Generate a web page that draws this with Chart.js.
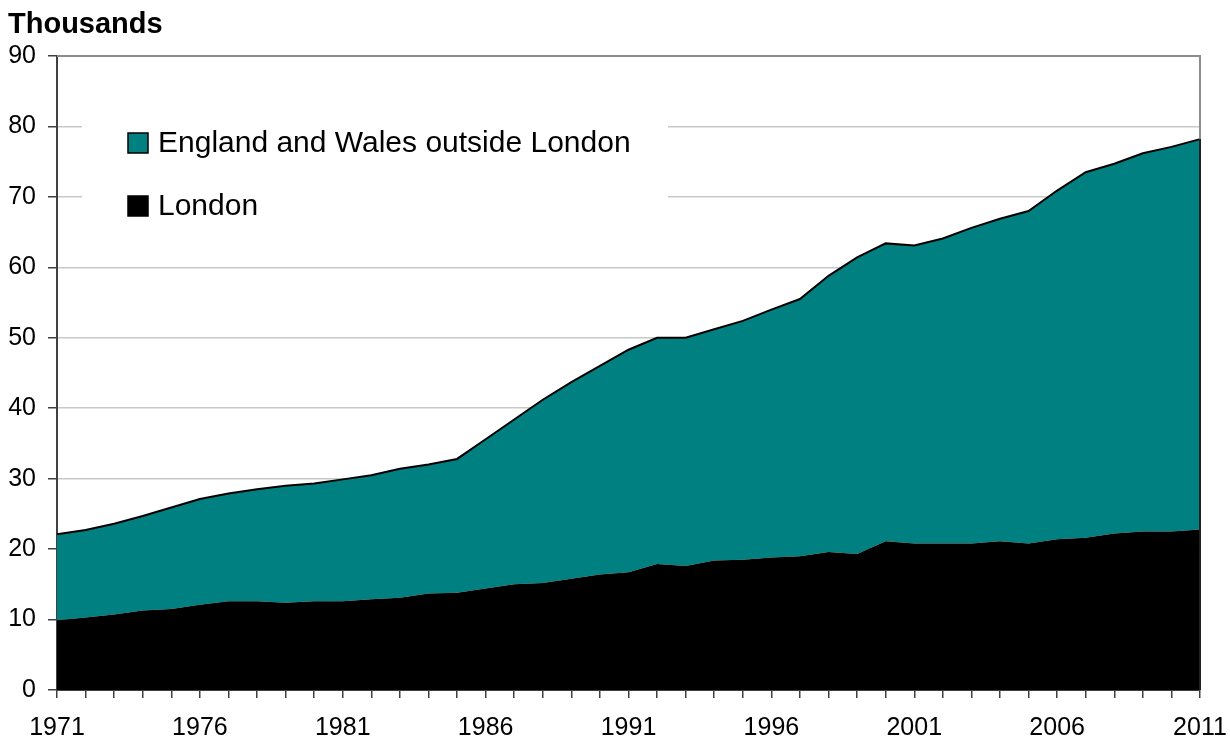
<!DOCTYPE html>
<html lang="en">
<head>
  <meta charset="UTF-8" />
  <title>Thousands - England and Wales</title>
  <script src="https://cdn.jsdelivr.net/npm/chart.js"></script>
  <style>
    html, body { margin: 0; padding: 0; background: #ffffff; }
    #wrap { width: 1230px; height: 740px; }
  </style>
</head>
<body>
<div id="wrap"><canvas id="areaChart" width="1230" height="740"></canvas></div>

<script>
  // Data (thousands)
  const years = [1971, 1972, 1973, 1974, 1975, 1976, 1977, 1978, 1979, 1980,
                 1981, 1982, 1983, 1984, 1985, 1986, 1987, 1988, 1989, 1990,
                 1991, 1992, 1993, 1994, 1995, 1996, 1997, 1998, 1999, 2000,
                 2001, 2002, 2003, 2004, 2005, 2006, 2007, 2008, 2009, 2010, 2011];
  const london = [9.9, 10.3, 10.7, 11.3, 11.5, 12.1, 12.6, 12.6, 12.4, 12.6,
                  12.6, 12.9, 13.1, 13.7, 13.8, 14.4, 15.0, 15.2, 15.8, 16.4,
                  16.7, 17.9, 17.6, 18.4, 18.5, 18.8, 19.0, 19.6, 19.3, 21.1,
                  20.8, 20.8, 20.8, 21.1, 20.8, 21.4, 21.6, 22.2, 22.5, 22.5, 22.8];
  const outsideLondon = [12.2, 12.4, 12.9, 13.4, 14.4, 15.0, 15.3, 15.9, 16.6, 16.7,
                         17.3, 17.6, 18.3, 18.3, 19.0, 21.2, 23.4, 26.0, 27.9, 29.6,
                         31.6, 32.1, 32.4, 32.8, 33.9, 35.2, 36.5, 39.2, 42.1, 42.3,
                         42.3, 43.3, 44.8, 45.8, 47.2, 49.5, 51.9, 52.5, 53.7, 54.6, 55.4];
  const yTicks = [0, 10, 20, 30, 40, 50, 60, 70, 80, 90];

  const FONT = "'Liberation Sans', Arial, sans-serif";
  const TEAL = '#008080';

  // frame, title and the boxed legend inside the plot
  const decorations = {
    id: 'decorations',
    afterDatasetsDraw(chart) {
      const { ctx, chartArea: a } = chart;
      ctx.save();
      ctx.lineWidth = 2;
      ctx.strokeStyle = '#8c8c8c';
      ctx.beginPath();
      ctx.moveTo(a.left, a.top);
      ctx.lineTo(a.right, a.top);
      ctx.lineTo(a.right, a.bottom);
      ctx.stroke();
      // dark edge where the area meets the right frame
      const yTop = chart.scales.y.getPixelForValue(london[london.length - 1] + outsideLondon[outsideLondon.length - 1]);
      ctx.strokeStyle = '#202020';
      ctx.beginPath();
      ctx.moveTo(a.right, yTop);
      ctx.lineTo(a.right, a.bottom);
      ctx.stroke();
      ctx.restore();
    },
    afterDraw(chart) {
      const { ctx } = chart;
      ctx.save();
      ctx.fillStyle = '#000';
      ctx.font = 'bold 29px ' + FONT;
      ctx.textBaseline = 'alphabetic';
      ctx.fillText('Thousands', 8, 33);

      // legend box
      ctx.fillStyle = '#ffffff';
      ctx.fillRect(82, 100, 586, 140);
      const items = [chart.data.datasets[1], chart.data.datasets[0]];
      ctx.font = '30px ' + FONT;
      ctx.textBaseline = 'middle';
      items.forEach((ds, i) => {
        const y = 143 + i * 63;
        ctx.fillStyle = ds.backgroundColor;
        ctx.fillRect(128, y - 10, 20, 20);
        ctx.strokeStyle = '#000';
        ctx.lineWidth = 1.5;
        ctx.strokeRect(128, y - 10, 20, 20);
        ctx.fillStyle = '#000';
        ctx.fillText(ds.label, 158, y + 1);
      });
      ctx.restore();
    }
  };

  new Chart(document.getElementById('areaChart'), {
    type: 'line',
    data: {
      labels: years,
      datasets: [{
        label: 'London',
        data: london,
        backgroundColor: '#000000',
        borderColor: '#000000',
        borderWidth: 0,
        fill: 'origin',
        pointRadius: 0,
        tension: 0
      }, {
        label: 'England and Wales outside London',
        data: outsideLondon,
        backgroundColor: TEAL,
        borderColor: '#000000',
        borderWidth: 2,
        fill: '-1',
        pointRadius: 0,
        tension: 0
      }]
    },
    options: {
      responsive: false,
      animation: false,
      layout: { padding: { top: 56, right: 30, left: 0, bottom: 0 } },
      plugins: {
        legend: { display: false },
        tooltip: { enabled: false }
      },
      scales: {
        x: {
          offset: false,
          grid: { drawOnChartArea: false, drawTicks: true, tickLength: 8, tickColor: '#404040', lineWidth: 1.5 },
          border: { color: '#404040', width: 2 },
          ticks: {
            autoSkip: false,
            maxRotation: 0,
            minRotation: 0,
            padding: 15,
            color: '#000',
            font: { family: FONT, size: 25 },
            callback: function (value, index) {
              return index % 5 === 0 ? this.getLabelForValue(value) : '';
            }
          },
          afterFit(scale) {
            scale.height = 50;
            scale.paddingLeft = 0;
            scale.paddingRight = 0;
          }
        },
        y: {
          stacked: true,
          min: yTicks[0],
          max: yTicks[yTicks.length - 1],
          afterBuildTicks(scale) { scale.ticks = yTicks.map(v => ({ value: v })); },
          grid: { color: '#c8c8c8', lineWidth: 1.5, tickLength: 9, tickColor: '#404040' },
          border: { color: '#404040', width: 2 },
          ticks: {
            padding: 12,
            color: '#000',
            font: { family: FONT, size: 25 }
          },
          afterFit(scale) { scale.width = 57; }
        }
      }
    },
    plugins: [decorations]
  });
</script>
</body>
</html>
